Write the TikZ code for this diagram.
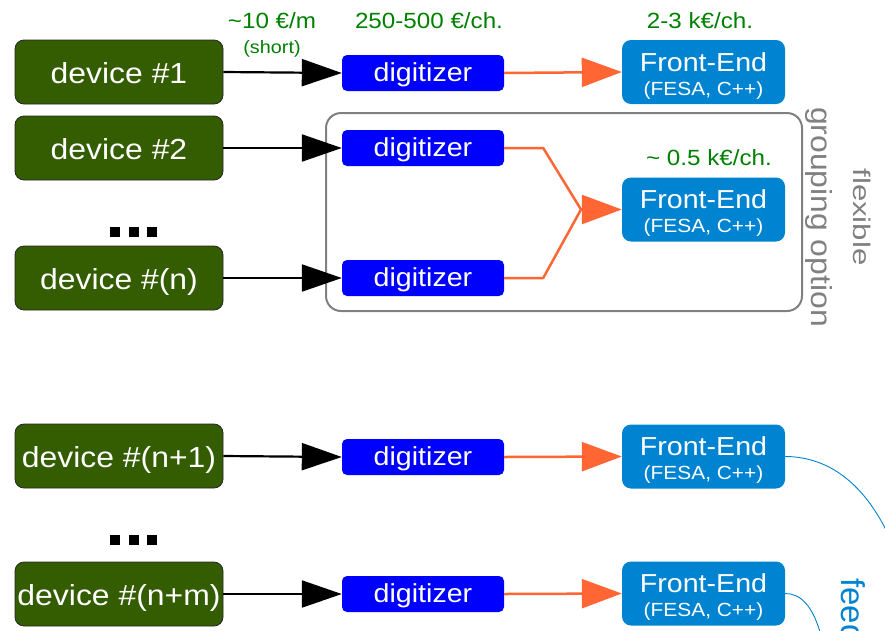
\documentclass[tikz,border=0pt]{standalone}
\usepackage{fontspec}
\setmainfont{Liberation Sans}[FakeStretch=1.1]
\newfontfamily\flexfont{Liberation Sans}[FakeStretch=1.3]
\newfontfamily\feedfont{Liberation Sans}
\usetikzlibrary{arrows.meta}
\definecolor{devgreen}{RGB}{52,92,0}
\definecolor{digiblue}{RGB}{0,0,255}
\definecolor{feblue}{RGB}{0,132,209}
\definecolor{linkorange}{RGB}{255,102,51}
\definecolor{costgreen}{RGB}{0,128,0}
\definecolor{groupgray}{RGB}{128,128,128}
\newcommand\fetext{\rule{0pt}{26pt}Front-End\\{\fontsize{19}{24}\selectfont (FESA, C++)}}
\begin{document}
\begin{tikzpicture}[x=1pt, y=-1pt, line join=round,
	dev/.style={draw=black!85, line width=0.8pt, fill=devgreen, text=white, rounded corners=9pt, minimum width=208pt, minimum height=64pt, inner sep=0pt, text height=22.6pt, text depth=0pt, font=\fontsize{29}{30}\selectfont},
	digi/.style={fill=digiblue, text=white, rounded corners=5pt, minimum width=162pt, minimum height=36pt, inner sep=0pt, text height=19pt, text depth=1.6pt, font=\fontsize{26}{28}\selectfont},
	fe/.style={fill=feblue, text=white, rounded corners=9pt, minimum width=163pt, minimum height=64pt, inner sep=0pt, align=center, font=\fontsize{26}{24}\selectfont},
	cost/.style={text=costgreen, anchor=base, inner sep=0pt, font=\fontsize{22}{22}\selectfont},
	cable/.style={draw=black, line width=2.2pt, -{Triangle[length=40pt, width=27pt]}},
	link/.style={draw=linkorange, line width=2.5pt},
	linktip/.style={link, -{Triangle[length=40pt, width=29pt]}},
	feed/.style={draw=feblue, line width=0.9pt},
	dotmark/.style={fill=black, minimum size=10pt, inner sep=0pt}]
	\useasboundingbox (0,0) rectangle (885,630);
	\clip (0,0) rectangle (885,630);
	% grouping
	\draw[groupgray, line width=2pt, rounded corners=15pt] (326,113) rectangle (802,311);
	\node[text=groupgray, rotate=-90, align=center, font=\fontsize{29}{42}\selectfont] (grp) at (838,217) {{\flexfont\fontsize{24}{42}\selectfont flexible}\\grouping option};
	% devices
	\node[dev] (dev1) at (119,72) {device \#1};
	\node[dev] (dev2) at (119,148) {device \#2};
	\node[dev] (devn) at (119,278) {device \#(n)};
	\node[dev] (devn1) at (119,456) {device \#(n+1)};
	\node[dev] (devnm) at (119,594) {device \#(n+m)};
	\foreach \y/\r in {232/a, 540/b}
		\foreach \x/\c in {115/1, 133.5/2, 152/3}
			\node[dotmark] (dot\r\c) at (\x,\y) {};
	% digitizers
	\node[digi] (dig1) at (423,73) {digitizer};
	\node[digi] (dig2) at (423,148) {digitizer};
	\node[digi] (dign) at (423,278) {digitizer};
	\node[digi] (dign1) at (423,457) {digitizer};
	\node[digi] (dignm) at (423,594) {digitizer};
	% front-ends
	\node[fe] (fe1) at (703.5,72) {\fetext};
	\node[fe] (feg) at (703.5,209.5) {\fetext};
	\node[fe] (fen1) at (703.5,456.5) {\fetext};
	\node[fe] (fenm) at (703.5,593.5) {\fetext};
	\foreach \a/\b in {dev1/dig1, dev2/dig2, devn/dign, devn1/dign1, devnm/dignm}
		\draw[cable] (\a.east) -- (\b.west);
	\foreach \a/\b in {dig1/fe1, dign1/fen1, dignm/fenm}
		\draw[linktip] (\a.east) -- (\b.west);
	\coordinate (join) at (581,209.5);
	\draw[link] (dig2.east) -- ++(39,0) -- (join);
	\draw[link] (dign.east) -- ++(39,0) -- (join);
	\draw[linktip] (join) -- (feg.west);
	% costs
	\node[cost] (ccable) at (272,28) {\textasciitilde10 €/m};
	\node[cost, font=\fontsize{18}{18}\selectfont] (cshort) at (272,53) {(short)};
	\node[cost] (cdigi) at (429,28) {250-500 €/ch.};
	\node[cost] (cfe) at (700,28) {2-3 k€/ch.};
	\node[cost] (cfeg) at (709,165) {\textasciitilde{} 0.5 k€/ch.};
	% feedback
	\draw[feed] (fen1.east) .. controls +(30,0) and +(-30,-58) .. (885,528) -- (889,537);
	\draw[feed] (fenm.east) .. controls +(15,0) and +(-8,-27) .. (820,632);
	\node[text=feblue, rotate=-90, anchor=base west, inner sep=0pt, font=\feedfont\fontsize{33}{33}\selectfont] (fb) at (841,578) {feedback};
\end{tikzpicture}
\end{document}
